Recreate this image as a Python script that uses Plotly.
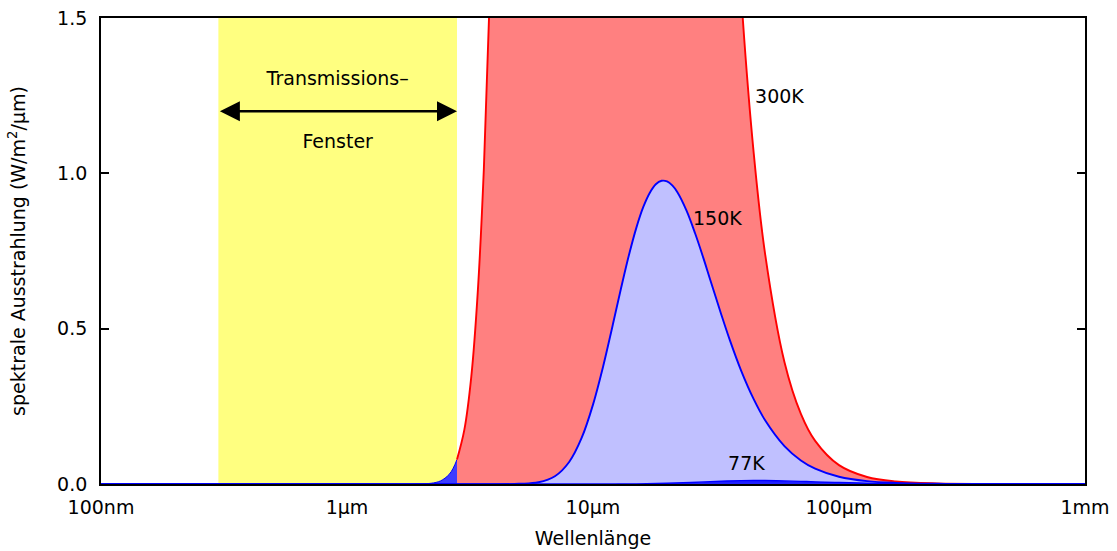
import numpy as np
import plotly.graph_objects as go

# Wavelengths in micrometres, spectral exitance in W/(m^2 µm)
wavelength_300k = [0.1, 0.3, 1.0, 1.5, 2.0, 2.2, 2.4, 2.6, 2.7, 2.8, 3.0, 3.2, 3.4, 3.6, 3.8,
                   4.0, 4.5, 5, 6, 7, 8, 9, 10, 12, 15, 20, 25, 30, 35, 40, 45, 50, 60,
                   70, 80, 100, 130, 170, 250, 400, 1000]
radiance_300k = [0.0, 0.0, 0.0, 0.0, 0.00045, 0.0025, 0.0099, 0.0306, 0.0505, 0.079, 0.175,
                 0.345, 0.617, 1.014, 1.559, 2.268, 4.768, 8.18, 16.26, 23.59, 28.52, 30.88,
                 31.17, 28.14, 21.0, 11.69, 6.60, 3.90, 2.43, 1.577, 1.066, 0.744, 0.393,
                 0.226, 0.139, 0.0608, 0.0226, 0.0081, 0.0018, 0.0003, 0.0]

wavelength_150k = [0.1, 1.0, 5, 6, 7, 8, 9, 10, 11, 12, 13, 14, 15, 16, 17, 18, 19, 20, 21,
                   22, 24, 26, 28, 30, 33, 36, 40, 45, 50, 60, 70, 80, 100, 130, 170, 250,
                   400, 1000]
radiance_150k = [0.0, 0.0, 0.0006, 0.0055, 0.0249, 0.0709, 0.149, 0.2555, 0.379, 0.508,
                 0.630, 0.737, 0.8245, 0.891, 0.937, 0.965, 0.976, 0.974, 0.961, 0.940,
                 0.880, 0.807, 0.731, 0.656, 0.553, 0.463, 0.365, 0.273, 0.206, 0.122,
                 0.0758, 0.0493, 0.0233, 0.0092, 0.0035, 0.0008, 0.0001, 0.0]

wavelength_77k = [0.1, 10, 15, 20, 25, 30, 35, 40, 45, 50, 60, 70, 80, 100, 130, 170, 250,
                  400, 1000]
radiance_77k = [0.0, 0.0, 0.0005, 0.0025, 0.005, 0.0075, 0.0095, 0.0108, 0.0113, 0.0112,
                0.0100, 0.0085, 0.0070, 0.0046, 0.0025, 0.0012, 0.0004, 0.0001, 0.0]

# Atmospheric transmission window (µm)
window_start = 0.3
window_end = 2.8

x_tick_values = [0.1, 1, 10, 100, 1000]
x_tick_labels = ["100nm", "1µm", "10µm", "100µm", "1mm"]
y_tick_values = [0.0, 0.5, 1.0, 1.5]

FONT = "DejaVu Sans, Verdana, sans-serif"
FS = 19

fig = go.Figure()

# Yellow transmission window across the full height
fig.add_trace(go.Scatter(
    x=[window_start, window_start, window_end, window_end, window_start],
    y=[0, 1.5, 1.5, 0, 0], mode="lines", fill="toself",
    fillcolor="#ffff80", line=dict(width=0), hoverinfo="skip", showlegend=False))

w300 = np.array(wavelength_300k)
r300 = np.array(radiance_300k)
inside = w300 <= window_end
outside = w300 >= window_end

# 300 K: part inside the window in blue, the rest in red
fig.add_trace(go.Scatter(
    x=w300[inside], y=r300[inside], mode="lines", fill="tozeroy",
    fillcolor="#3c3cff", line=dict(color="#0000ff", width=1, shape="spline"),
    showlegend=False))
fig.add_trace(go.Scatter(
    x=w300[outside], y=r300[outside], mode="lines", fill="tozeroy",
    fillcolor="#ff8080", line=dict(color="#ff0000", width=1.9, shape="spline"),
    showlegend=False))

# 150 K
fig.add_trace(go.Scatter(
    x=wavelength_150k, y=radiance_150k, mode="lines", fill="tozeroy",
    fillcolor="#c0c0ff", line=dict(color="#0000ff", width=1.9, shape="spline"),
    showlegend=False))

# 77 K
fig.add_trace(go.Scatter(
    x=wavelength_77k, y=radiance_77k, mode="lines", fill="tozeroy",
    fillcolor="#2020ff", line=dict(color="#0000ff", width=1.4, shape="spline"),
    showlegend=False))

# Curve labels
fig.add_trace(go.Scatter(
    x=[45.6, 25.5, 35.4], y=[1.242, 0.85, 0.061], mode="text",
    text=["300K", "150K", "77K"], textposition="middle right",
    textfont=dict(family=FONT, size=FS, color="black"), showlegend=False))

window_mid = float(np.sqrt(window_start * window_end))
fig.add_trace(go.Scatter(
    x=[window_mid, window_mid], y=[1.30, 1.0975], mode="text",
    text=["Transmissions–", "Fenster"], textposition="middle center",
    textfont=dict(family=FONT, size=FS, color="black"), showlegend=False))

# Double-headed arrow spanning the window
fig.add_annotation(
    x=np.log10(window_end), y=1.2, ax=np.log10(window_start), ay=1.2,
    xref="x", yref="y", axref="x", ayref="y", text="", showarrow=True,
    arrowhead=2, startarrowhead=2, arrowside="end+start",
    arrowwidth=2.5, arrowsize=1.6, startarrowsize=1.6, arrowcolor="black")

fig.update_layout(
    width=1117, height=551,
    margin=dict(l=101, r=32, t=18, b=67),
    plot_bgcolor="white", paper_bgcolor="white",
    font=dict(family=FONT, size=FS, color="black"),
    xaxis=dict(
        type="log", range=[-1, 3], tickvals=x_tick_values, ticktext=x_tick_labels,
        ticks="", showgrid=False, zeroline=False, showline=True, linecolor="black",
        linewidth=1.8, mirror=True, ticklabelstandoff=5, automargin=False,
        tickfont=dict(family=FONT, size=FS),
        title=dict(text="Wellenlänge", standoff=15, font=dict(family=FONT, size=FS))),
    yaxis=dict(
        range=[0, 1.5], tickvals=y_tick_values, tickformat=".1f",
        ticks="inside", ticklen=8, tickwidth=1.5, tickcolor="black",
        showgrid=False, zeroline=False, showline=True, linecolor="black",
        linewidth=1.8, mirror="ticks", ticklabelstandoff=8, automargin=False,
        tickfont=dict(family=FONT, size=FS),
        title=dict(text="spektrale Ausstrahlung (W/m<sup>2</sup>/µm)", standoff=26,
                   font=dict(family=FONT, size=FS))),
)

fig.write_html("out.html")
